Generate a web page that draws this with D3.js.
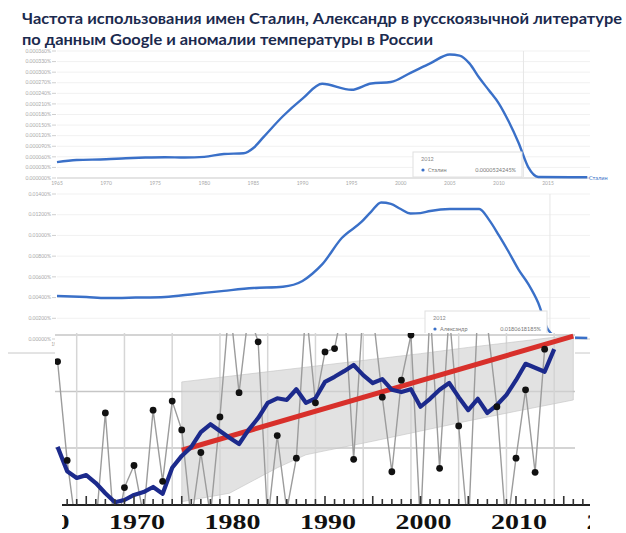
<!DOCTYPE html>
<html>
<head>
<meta charset="utf-8">
<script src="https://cdnjs.cloudflare.com/ajax/libs/d3/7.8.5/d3.min.js"></script>
<style>
  body { margin: 0; background: #fff; }
  svg { display: block; }
</style>
</head>
<body>
<script>
// ---- Data ----
// title
const titleLines = [
    "Частота использования  имен Сталин,  Александр  в русскоязычной литературе",
    "по данным Google и аномалии температуры в России"
];

// Ngram "Сталин" (% of words)
const stalinYears  = [1965, 1967, 1970, 1972, 1974, 1976, 1978, 1980, 1982, 1984, 1985, 1986, 1988, 1990, 1992, 1995, 1997, 1999, 2001, 2003, 2005, 2006, 2007, 2008, 2009, 2010, 2011, 2012, 2013, 2014, 2019];
const stalinValues = [0.000045, 0.000051, 0.000053, 0.000056, 0.000058, 0.000059, 0.000058, 0.000060, 0.000068, 0.000070, 0.000085, 0.000115, 0.000175, 0.000225, 0.000267, 0.000250, 0.000268, 0.000272, 0.000298, 0.000325, 0.000350, 0.000347, 0.000325, 0.000284, 0.000248, 0.000211, 0.000160, 0.000100, 0.000030, 0.000003, 0.000002];
const stalinTicks  = [0, 0.00003, 0.00006, 0.00009, 0.00012, 0.00015, 0.00018, 0.00021, 0.00024, 0.00027, 0.0003, 0.00033, 0.00036];

// Ngram "Александр"
const alexYears  = [1965, 1968, 1970, 1973, 1976, 1979, 1982, 1985, 1988, 1990, 1991, 1992, 1994, 1996, 1997, 1998, 1999, 2000, 2001, 2002, 2003, 2005, 2008, 2009, 2010, 2011, 2012, 2013, 2014, 2015, 2016, 2019];
const alexValues = [0.00415, 0.00405, 0.00396, 0.00400, 0.00406, 0.00435, 0.00465, 0.00492, 0.00505, 0.00560, 0.00630, 0.00720, 0.00975, 0.01130, 0.01230, 0.01318, 0.01305, 0.01255, 0.01212, 0.01215, 0.01236, 0.01255, 0.01255, 0.01150, 0.01000, 0.00840, 0.00670, 0.00530, 0.00350, 0.00090, 0.00020, 0.00010];
const alexTicks  = [0, 0.002, 0.004, 0.006, 0.008, 0.010, 0.012, 0.014];

const ngramTickYears = [1965, 1970, 1975, 1980, 1985, 1990, 1995, 2000, 2005, 2010, 2015];

// temperature anomalies, Russia (deg C)
const tempYears  = [1962, 1963, 1964, 1965, 1966, 1967, 1968, 1969, 1970, 1971, 1972, 1973, 1974, 1975, 1976, 1977, 1978, 1979, 1980, 1981, 1982, 1983, 1984, 1985, 1986, 1987, 1988, 1989, 1990, 1991, 1992, 1993, 1994, 1995, 1996, 1997, 1998, 1999, 2000, 2001, 2002, 2003, 2004, 2005, 2006, 2007, 2008, 2009, 2010, 2011, 2012, 2013];
const tempValues = [1.53, -0.22, -1.5, -1.2, -1.4, 0.62, -1.6, -0.70, -0.31, -1.2, 0.67, -0.59, 0.83, 0.32, -1.3, -0.08, -1.2, 0.55, 2.6, 0.98, 2.4, 1.88, -1.3, 0.22, -1.1, -0.18, 2.5, 0.80, 1.70, 1.76, 2.6, -0.20, 2.5, 2.4, 0.90, -0.42, 1.20, 2.0, -1.4, 2.5, -0.36, 2.4, 0.39, -1.5, 2.5, 2.2, 0.73, -1.5, -0.18, 1.03, -0.43, 1.75];

// smoothed anomaly (blue)
const smoothYears  = [1962, 1963, 1964, 1965, 1966, 1967, 1968, 1969, 1970, 1971, 1972, 1973, 1974, 1975, 1976, 1977, 1978, 1979, 1980, 1981, 1982, 1983, 1984, 1985, 1986, 1987, 1988, 1989, 1990, 1991, 1992, 1993, 1994, 1995, 1996, 1997, 1998, 1999, 2000, 2001, 2002, 2003, 2004, 2005, 2006, 2007, 2008, 2009, 2010, 2011, 2012, 2013, 2014];
const smoothValues = [0.02, -0.41, -0.53, -0.48, -0.62, -0.80, -0.96, -0.92, -0.83, -0.78, -0.69, -0.81, -0.35, -0.14, 0.02, 0.28, 0.42, 0.30, 0.18, 0.07, 0.32, 0.53, 0.80, 0.88, 0.85, 1.04, 0.80, 0.88, 1.17, 1.26, 1.36, 1.47, 1.29, 1.15, 1.22, 1.03, 0.99, 1.04, 0.73, 0.87, 1.03, 1.15, 0.90, 0.67, 0.87, 0.62, 0.76, 0.94, 1.20, 1.49, 1.42, 1.35, 1.75];

// linear trend (red) and its confidence band (grey)
const trendYears  = [1975, 2016];
const trendValues = [-0.04, 1.98];
const bandYears  = [1975, 1980, 1985, 1988, 1990, 1995, 2000, 2005, 2010, 2016];
const bandUpper  = [1.17, 1.27, 1.37, 1.43, 1.47, 1.57, 1.67, 1.78, 1.88, 2.00];
const bandLower  = [-0.95, -0.80, -0.35, -0.12, -0.05, 0.12, 0.30, 0.48, 0.65, 0.85];

const tempGridValues = [2, 1, 0];
const tempGridYears  = [1964, 1969, 1974, 1979, 1984, 1989, 1994, 1999, 2004, 2009, 2014];
const decadeLabels   = [1960, 1970, 1980, 1990, 2000, 2010, 2020];

// ---- Drawing ----
const width = 626, height = 533;
const ngBlue = "#3a70c8";

let svg = d3.select("body").append("svg")
    .attr("width", width)
    .attr("height", height)
    .style("font-family", "Lato, 'Open Sans', sans-serif");

let defs = svg.append("defs");
const addClip = (id, x, y, w, h) => defs.append("clipPath").attr("id", id)
    .append("rect").attr("x", x).attr("y", y).attr("width", w).attr("height", h);
addClip("clip2", 0, 186, 590, 170);
addClip("clipTemp", 55, 333, 520, 172);
addClip("clipAxis", 62, 490, 528, 43);

// title
svg.selectAll(".title")
    .data(titleLines).enter()
        .append("text")
    .attr("class", "title")
    .attr("x", 22)
    .attr("y", (d, i) => 24 + i * 21)
    .attr("textLength", (d, i) => i == 0 ? 600 : 411)
    .attr("lengthAdjust", "spacingAndGlyphs")
    .style("font-size", "15.5px")
    .style("font-weight", "bold")
    .attr("fill", "#1b2a4e")
    .text(d => d);

const ngX = d3.scaleLinear().domain([1965, 2015]).range([57, 548]);

// ngram panel helper
function ngramPanel(g, yScale, ticks, fmt, years, values, name, axisY, hoverYear, tip) {
    g.selectAll(".grid")
        .data(ticks).enter()
            .append("line")
        .attr("x1", 57).attr("x2", 590)
        .attr("y1", d => yScale(d)).attr("y2", d => yScale(d))
        .attr("stroke", "#f1f1f1");
    g.selectAll(".ylab")
        .data(ticks).enter()
            .append("text")
        .attr("x", 51)
        .attr("y", d => yScale(d) + 1.7)
        .attr("text-anchor", "end")
        .style("font-size", "5px")
        .attr("fill", "#a8a8a8")
        .text(d => fmt(d) + "%");
    g.selectAll(".ydash")
        .data(ticks).enter()
            .append("line")
        .attr("x1", 52).attr("x2", 56)
        .attr("y1", d => yScale(d)).attr("y2", d => yScale(d))
        .attr("stroke", "#cfcfcf");
    g.append("line")
        .attr("x1", 57).attr("x2", 590)
        .attr("y1", axisY).attr("y2", axisY)
        .attr("stroke", "#d0d0d0");
    g.selectAll(".xlab")
        .data(ngramTickYears).enter()
            .append("text")
        .attr("x", d => ngX(d))
        .attr("y", axisY + 7)
        .attr("text-anchor", "middle")
        .style("font-size", "5px")
        .attr("fill", "#a8a8a8")
        .text(d => d);
    g.append("line")
        .attr("x1", ngX(hoverYear)).attr("x2", ngX(hoverYear))
        .attr("y1", yScale(ticks[ticks.length - 1])).attr("y2", axisY)
        .attr("stroke", "#e6e6e6");
    g.append("path")
        .datum(years.map((y, i) => [y, values[i]]))
        .attr("fill", "none")
        .attr("stroke", ngBlue)
        .attr("stroke-width", 2.4)
        .attr("d", d3.line().x(d => ngX(d[0])).y(d => yScale(d[1])).curve(d3.curveMonotoneX));
    // tooltip
    let t = g.append("g");
    t.append("rect")
        .attr("x", tip.x).attr("y", tip.y).attr("width", tip.w).attr("height", 25)
        .attr("fill", "#fff").attr("stroke", "#e0e0e0");
    t.append("text").attr("x", tip.x + 8).attr("y", tip.y + 9)
        .style("font-size", "5.5px").attr("fill", "#888").text("2012");
    t.append("circle").attr("cx", tip.x + 10).attr("cy", tip.y + 18).attr("r", 1.6).attr("fill", ngBlue);
    t.append("text").attr("x", tip.x + 15).attr("y", tip.y + 20)
        .style("font-size", "5.5px").attr("fill", "#777").text(name);
    t.append("text").attr("x", tip.x + tip.w - 6).attr("y", tip.y + 20)
        .attr("text-anchor", "end")
        .style("font-size", "5.5px").attr("fill", "#777").text(tip.value);
}

// chart 1: Сталин
const stalinY = d3.scaleLinear().domain([0, 0.00036]).range([178, 51]);
let g1 = svg.append("g");
ngramPanel(g1, stalinY, stalinTicks, d3.format(".6f"), stalinYears, stalinValues, "Сталин", 178, 2012.5,
    {x: 413, y: 152, w: 109, value: "0.0000524245%"});
g1.append("text")
    .attr("x", 589).attr("y", 179.5)
    .style("font-size", "5.5px")
    .attr("fill", ngBlue)
    .text("Сталин");

// chart 2: Александр
const alexY = d3.scaleLinear().domain([0, 0.014]).range([339, 194]);
let g2 = svg.append("g").attr("clip-path", "url(#clip2)");
ngramPanel(g2, alexY, alexTicks, d3.format(".5f"), alexYears, alexValues, "Александр", 339, 2015.2,
    {x: 425, y: 311, w: 122, value: "0.0180618185%"});
g2.append("line")
    .attr("x1", 8).attr("x2", 590).attr("y1", 353).attr("y2", 353)
    .attr("stroke", "#c8c8c8");

// chart 3: temperature anomalies
const tX = d3.scaleLinear().domain([1970, 2010]).range([134, 516]);
const tY = d3.scaleLinear().domain([-1, 2]).range([504.5, 335]);

svg.append("rect").attr("x", 55).attr("y", 333).attr("width", 520).attr("height", 172).attr("fill", "#fff");
svg.append("rect").attr("x", 55).attr("y", 490).attr("width", 535).attr("height", 43).attr("fill", "#fff");

let g3 = svg.append("g").attr("clip-path", "url(#clipTemp)");
g3.selectAll(".hgrid")
    .data(tempGridValues).enter()
        .append("line")
    .attr("x1", 55).attr("x2", 575)
    .attr("y1", d => tY(d)).attr("y2", d => tY(d))
    .attr("stroke", "#c6c6c6").attr("stroke-width", 1.5);
g3.selectAll(".vgrid")
    .data(tempGridYears).enter()
        .append("line")
    .attr("x1", d => tX(d)).attr("x2", d => tX(d))
    .attr("y1", 333).attr("y2", 505)
    .attr("stroke", "#d6d6d6").attr("stroke-width", 1.5);

g3.append("path")
    .datum(bandYears.map((y, i) => [y, bandLower[i], bandUpper[i]]))
    .attr("fill", "#d2d2d2")
    .attr("fill-opacity", 0.65)
    .attr("stroke", "#c2c2c2")
    .attr("stroke-width", 0.6)
    .attr("d", d3.area().x(d => tX(d[0])).y0(d => tY(d[1])).y1(d => tY(d[2])));

g3.append("path")
    .datum(tempYears.map((y, i) => [y, tempValues[i]]))
    .attr("fill", "none")
    .attr("stroke", "#9c9c9c")
    .attr("stroke-width", 1.4)
    .attr("d", d3.line().x(d => tX(d[0])).y(d => tY(d[1])));

g3.append("path")
    .datum(trendYears.map((y, i) => [y, trendValues[i]]))
    .attr("fill", "none")
    .attr("stroke", "#d8302b")
    .attr("stroke-width", 5)
    .attr("d", d3.line().x(d => tX(d[0])).y(d => tY(d[1])));

g3.append("path")
    .datum(smoothYears.map((y, i) => [y, smoothValues[i]]))
    .attr("fill", "none")
    .attr("stroke", "#1c2a8c")
    .attr("stroke-width", 4.2)
    .attr("stroke-linejoin", "round")
    .attr("d", d3.line().x(d => tX(d[0])).y(d => tY(d[1])));

g3.selectAll(".dot")
    .data(tempYears.map((y, i) => [y, tempValues[i]])).enter()
        .append("circle")
    .attr("cx", d => tX(d[0]))
    .attr("cy", d => tY(d[1]))
    .attr("r", 3.4)
    .attr("fill", "#111");

// bottom axis with yearly ticks
let ax = svg.append("g").attr("clip-path", "url(#clipAxis)");
ax.append("line")
    .attr("x1", 55).attr("x2", 590).attr("y1", 505).attr("y2", 505)
    .attr("stroke", "#222").attr("stroke-width", 2);
ax.selectAll(".tick")
    .data(d3.range(1956, 2026)).enter()
        .append("line")
    .attr("x1", d => tX(d)).attr("x2", d => tX(d))
    .attr("y1", 505)
    .attr("y2", d => d % 5 == 0 ? 496 : 499)
    .attr("stroke", "#333").attr("stroke-width", 1.6);
ax.selectAll(".dec")
    .data(decadeLabels).enter()
        .append("text")
    .attr("x", d => tX(d) + 3)
    .attr("y", 529)
    .attr("text-anchor", "middle")
    .attr("textLength", 56)
    .attr("lengthAdjust", "spacingAndGlyphs")
    .style("font-family", "'Liberation Serif', 'DejaVu Serif', serif")
    .style("font-weight", "bold")
    .style("font-size", "21px")
    .attr("fill", "#111")
    .text(d => d);
</script>
</body>
</html>
